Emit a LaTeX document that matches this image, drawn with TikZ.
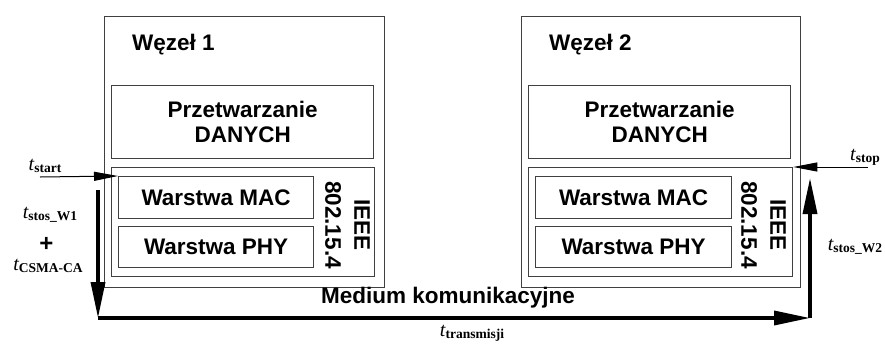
\documentclass[tikz,border=0pt]{standalone}
\usepackage{fontspec}
\setmainfont{Liberation Serif}
\newfontfamily\arialf{Liberation Sans}
\usetikzlibrary{arrows.meta}
\newcommand{\tlab}[1]{{\fontsize{20}{22}\selectfont\itshape t}{\fontsize{13.5}{15}\selectfont\bfseries\raisebox{-2pt}{#1}}}
\begin{document}
\begin{tikzpicture}[x=1pt,y=-1pt,
  box/.style={draw=black!75, line width=1.3pt, inner sep=0pt, anchor=north west},
  lab/.style={font=\arialf\bfseries\fontsize{22.5}{25}\selectfont, align=center, inner sep=0pt},
  tl/.style={inner sep=0pt, align=center},
  thinarrow/.style={line width=1pt, -{Triangle[length=24pt,width=9pt]}},
  thickarrow/.style={line width=3.5pt, -{Triangle[length=36pt,width=14pt]}}
]
\useasboundingbox (0,0) rectangle (885,343);

% Node 1
\node[box, minimum width=280pt, minimum height=271pt] (n1) at (104,16) {};
\node[lab, anchor=west] (w1) at (132,45) {Węzeł 1};
\node[box, minimum width=262pt, minimum height=73pt] (d1) at (111,85) {};
\node[lab] (d1t) at (d1.center) {Przetwarzanie\\DANYCH};
\node[box, minimum width=263pt, minimum height=109pt] (i1) at (111,167) {};
\node[box, minimum width=195pt, minimum height=42pt] (mac1) at (118,176) {};
\node[lab] (mac1t) at (mac1.center) {Warstwa MAC};
\node[box, minimum width=195pt, minimum height=41pt] (phy1) at (118,226) {};
\node[lab] (phy1t) at (phy1.center) {Warstwa PHY};
\node[lab, rotate=-90, font=\arialf\bfseries\fontsize{22.5}{29}\selectfont] (ie1) at (347.5,225) {IEEE\\802.15.4};

% Node 2
\node[box, minimum width=279pt, minimum height=271pt] (n2) at (521,16) {};
\node[lab, anchor=west] (w2) at (549,45) {Węzeł 2};
\node[box, minimum width=262pt, minimum height=73pt] (d2) at (528,85) {};
\node[lab] (d2t) at (d2.center) {Przetwarzanie\\DANYCH};
\node[box, minimum width=264pt, minimum height=109pt] (i2) at (528,167) {};
\node[box, minimum width=196pt, minimum height=42pt] (mac2) at (535,176) {};
\node[lab] (mac2t) at (mac2.center) {Warstwa MAC};
\node[box, minimum width=196pt, minimum height=41pt] (phy2) at (535,226) {};
\node[lab] (phy2t) at (phy2.center) {Warstwa PHY};
\node[lab, rotate=-90, font=\arialf\bfseries\fontsize{22.5}{29}\selectfont] (ie2) at (763.5,225) {IEEE\\802.15.4};

% Medium
\node[lab] (med) at (448,298) {Medium komunikacyjne};

% Coordinates
\coordinate (sA) at (40,177);
\coordinate (dA) at (98,190);
\coordinate (dB) at (98,318);
\coordinate (hB) at (810,318);
\coordinate (uB) at (810,178);
\coordinate (sB) at (868,167);

% Arrows
\draw[thinarrow] (sA) -- (mac1.north west);
\draw[thickarrow] (dA) -- (dB);
\draw[thickarrow] (dB) -- (hB);
\draw[thickarrow] (hB) -- (uB);
\draw[thinarrow] (sB) -- (i2.north east);

% Time labels
\node[tl] (ts) at (45,166) {\tlab{start}};
\node[tl] (tw1) at (50,215) {\tlab{stos\_W1}};
\node[tl, font=\arialf\bfseries\fontsize{24}{26}\selectfont] (plus) at (46.5,244.5) {+};
\node[tl] (tc) at (48,266) {\tlab{CSMA-CA}};
\node[tl] (tw2) at (855,247) {\tlab{stos\_W2}};
\node[tl] (tst) at (865,157) {\tlab{stop}};
\node[tl] (ttr) at (472,333) {\tlab{transmisji}};
\end{tikzpicture}
\end{document}
